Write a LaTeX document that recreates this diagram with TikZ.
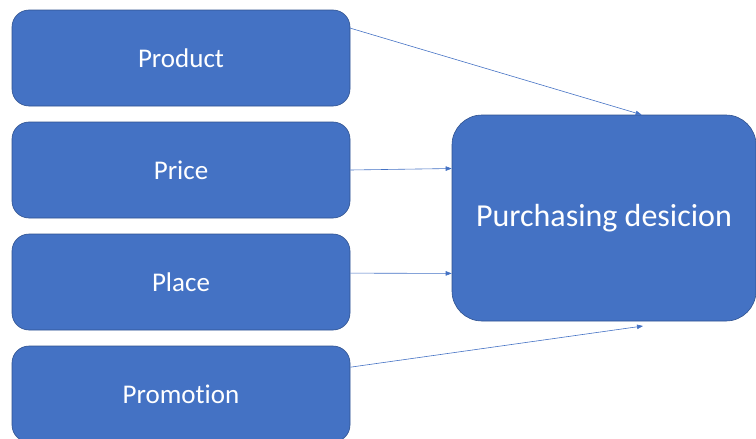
\documentclass[tikz,border=0pt]{standalone}
\usepackage{fontspec}
\setmainfont{Carlito}[Ligatures={NoCommon}]
\usetikzlibrary{arrows.meta}

\definecolor{boxblue}{HTML}{4472C4}
\definecolor{boxedge}{HTML}{2F528F}

\begin{document}
\begin{tikzpicture}[x=1pt,y=-1pt,
  factor/.style={draw=boxedge, fill=boxblue, line width=0.6pt,
    rounded corners=17pt, minimum width=338pt, minimum height=96pt,
    text=white, font=\fontsize{27}{31}\selectfont},
  result/.style={factor, rounded corners=30pt, minimum width=304pt,
    minimum height=206pt, font=\fontsize{32}{37}\selectfont},
  link/.style={draw=boxblue, line width=0.6pt,
    -{Triangle[length=6pt,width=4.5pt]}}]
\useasboundingbox (0,0) rectangle (756,439);

% the four P's on the left
\node[factor] (product)   at (181,58)  {Product};
\node[factor] (price)     at (181,170) {Price};
\node[factor] (place)     at (181,282) {Place};
\node[factor] (promotion) at (181,394) {Promotion};

% outcome box
\node[result] (decision) at (604,218) {Purchasing desicion};
\coordinate (below) at (643,326);

\draw[link] (product.10)  -- (decision.70);
\draw[link] (price.east)  -- (decision.162);
\draw[link] (place.3)     -- (decision.200);
\draw[link] (promotion.9) -- (below);
\end{tikzpicture}
\end{document}
